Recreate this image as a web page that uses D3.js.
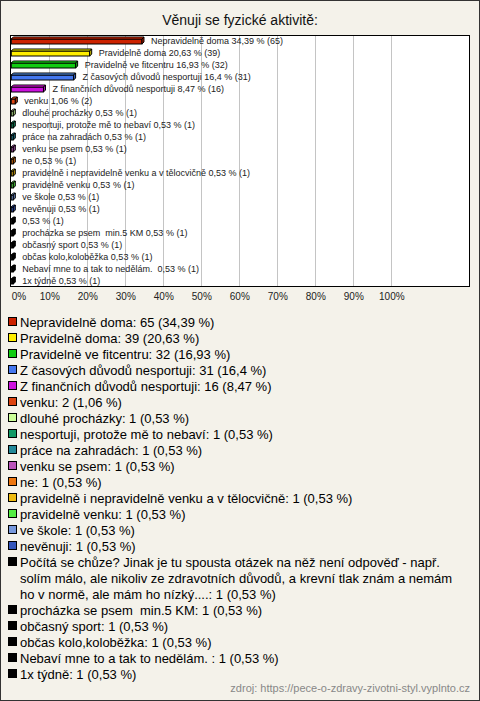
<!DOCTYPE html>
<html><head><meta charset="utf-8">
<script src="https://cdn.jsdelivr.net/npm/d3@7"></script>
<style>html,body{margin:0;padding:0;background:#fff}svg{display:block}</style>
</head><body>
<script>
const title = "Věnuji se fyzické aktivitě:";
const categories = [
  "Nepravidelně doma","Pravidelně doma","Pravidelně ve fitcentru","Z časových důvodů nesportuji",
  "Z finančních důvodů nesportuji","venku","dlouhé procházky","nesportuji, protože mě to nebaví",
  "práce na zahradách","venku se psem","ne","pravidelně i nepravidelně venku a v tělocvičně",
  "pravidelně venku","ve škole","nevěnuji",
  "Počítá se chůze? Jinak je tu spousta otázek na něž není odpověď - např. solím málo, ale nikoliv ze zdravotních důvodů, a krevní tlak znám a nemám ho v normě, ale mám ho nízký....",
  "procházka se psem  min.5 KM","občasný sport","občas kolo,koloběžka","Nebaví mne to a tak to nedělám. ","1x týdně"
];
const counts = [65,39,32,31,16,2,1,1,1,1,1,1,1,1,1,1,1,1,1,1,1];
const percents = [34.39,20.63,16.93,16.4,8.47,1.06,0.53,0.53,0.53,0.53,0.53,0.53,0.53,0.53,0.53,0.53,0.53,0.53,0.53,0.53,0.53];
const colors = ["#cc2200","#ffee00","#11cc11","#4477ee","#cc11dd","#dd4411","#ccff99","#119966",
  "#228899","#bb55bb","#ee7711","#eebb11","#55ee44","#7799dd","#3355bb",
  "#000000","#000000","#000000","#000000","#000000","#000000"];
const xTicks = [0,10,20,30,40,50,60,70,80,90,100];
const source = "zdroj: https://pece-o-zdravy-zivotni-styl.vyplnto.cz";

const W = 480, H = 701;
const svg = d3.select("body").append("svg").attr("width", W).attr("height", H);
svg.append("rect").attr("x",0.5).attr("y",0.5).attr("width",W-1).attr("height",H-1)
  .attr("fill","#f4f2ea").attr("stroke","#333");

svg.append("text").attr("x",240).attr("y",25).attr("text-anchor","middle")
  .attr("font-family","Liberation Sans, Arial, sans-serif").attr("font-size",14).attr("fill","#111").text(title);

const plot = {x:10, y:35, w:460, h:252};
svg.append("rect").attr("x",plot.x+0.5).attr("y",plot.y+0.5).attr("width",plot.w-1).attr("height",plot.h-1)
  .attr("fill","#fff").attr("stroke","#000");

const x = d3.scaleLinear().domain([0,100]).range([11.3,391.3]);
const y = d3.scaleBand().domain(d3.range(categories.length)).range([plot.y, plot.y+plot.h]);

svg.append("g").selectAll("line").data(xTicks.filter(t=>t>0)).join("line")
  .attr("x1",d=>Math.round(x(d))+0.5).attr("x2",d=>Math.round(x(d))+0.5)
  .attr("y1",plot.y+1).attr("y2",plot.y+plot.h-1).attr("stroke","#c4c4c4");

const axis = d3.axisBottom(x).tickValues(xTicks).tickSize(0).tickPadding(0).tickFormat(d=>d+"%");
const ag = svg.append("g").attr("transform",`translate(0,${plot.y+plot.h+6})`).call(axis);
ag.select(".domain").remove();
ag.selectAll("text").attr("font-family","Liberation Sans, Arial, sans-serif").attr("font-size",10).attr("fill","#222")
  .attr("dy","0.71em");
ag.selectAll(".tick").filter(d=>d===0).select("text").attr("text-anchor","start");

const d3d = 2, bh = 5;
const rows = svg.append("g").selectAll("g").data(categories.map((c,i)=>({c,i}))).join("g");
rows.each(function(d){
  const g = d3.select(this);
  const yc = y(d.i) + y.bandwidth()/2;
  const x0 = x(0), x1 = x(percents[d.i]);
  const y0 = yc - 2;
  const col = colors[d.i];
  const light = d3.color(col).brighter(0.8);
  g.append("rect").attr("x",x0).attr("y",y0).attr("width",Math.max(x1-x0,0.5)).attr("height",bh)
    .attr("fill",col).attr("stroke","#000").attr("stroke-width",1);
  g.append("path").attr("d",`M${x0},${y0}L${x0+d3d},${y0-d3d}L${x1+d3d},${y0-d3d}L${x1},${y0}Z`)
    .attr("fill",light).attr("stroke","#000").attr("stroke-width",1);
  g.append("path").attr("d",`M${x1},${y0}L${x1+d3d},${y0-d3d}L${x1+d3d},${y0+bh-d3d}L${x1},${y0+bh}Z`)
    .attr("fill",d3.color(col).darker(0.5)).attr("stroke","#000").attr("stroke-width",1);
  const name = d.c.length > 60 ? "" : d.c;
  const pct = String(percents[d.i]).replace(".",",");
  g.append("text").attr("x",x1+d3d+7).attr("y",yc+3)
    .attr("font-family","Liberation Sans, Arial, sans-serif").attr("font-size",9).attr("fill","#222")
    .style("white-space","pre")
    .text((name? name+" " : "") + pct + " % (" + counts[d.i] + ")");
});

// legend
const lg = svg.append("g");
let ly = 322;
const lh = 16;
categories.forEach((c,i)=>{
  const pct = String(percents[i]).replace(".",",");
  const full = c + ": " + counts[i] + " (" + pct + " %)";
  lg.append("rect").attr("x",8.5).attr("y",ly-4.5).attr("width",8).attr("height",8)
    .attr("fill",colors[i]).attr("stroke","#000");
  const t = lg.append("text").attr("font-family","Liberation Sans, Arial, sans-serif").attr("font-size",13)
    .attr("fill","#000").style("white-space","pre");
  // wrap
  const words = full.split(" ");
  let line = [], lines = [];
  const probe = lg.append("text").attr("font-family","Liberation Sans, Arial, sans-serif").attr("font-size",13).style("white-space","pre");
  words.forEach(w=>{
    const test = line.concat([w]).join(" ");
    probe.text(test);
    if (probe.node().getComputedTextLength() > 448 && line.length) { lines.push(line.join(" ")); line=[w]; }
    else line.push(w);
  });
  lines.push(line.join(" "));
  probe.remove();
  lines.forEach((l,k)=>{
    t.append("tspan").attr("x",20).attr("y",ly+5+k*lh).text(l);
  });
  ly += lh*lines.length;
});

svg.append("text").attr("x",470).attr("y",692).attr("text-anchor","end")
  .attr("font-family","Liberation Sans, Arial, sans-serif").attr("font-size",11).attr("fill","#888").text(source);
</script>
</body></html>
